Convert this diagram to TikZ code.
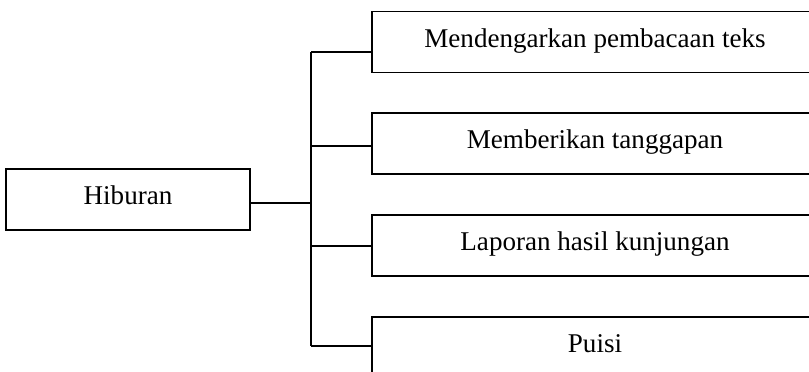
\documentclass[tikz,border=0pt]{standalone}
\usepackage{fontspec}
\setmainfont{Liberation Serif}
\tikzset{every picture/.style={line width=0.9pt}}
\tikzset{
  boxnode/.style={draw, rectangle, inner sep=0pt, minimum height=45.75pt, text depth=6pt, font=\fontsize{20.3}{24}\selectfont},
  itemnode/.style={boxnode, minimum width=334.5pt}
}

\begin{document}
\begin{tikzpicture}[x=0.75pt,y=0.75pt,yscale=-1,xscale=1]
\useasboundingbox (0,0) rectangle (809,371);
\clip (0,0) rectangle (809,371);

%Shape: Rectangle [id:hiburan]
\node [boxnode, minimum width=183pt] (hib) at (128,199.5) {Hiburan};

%Shape: Rectangle [id:items]
\node [itemnode] (m1) at (595,42) {Mendengarkan pembacaan teks};
\node [itemnode] (m2) at (595,143.5) {Memberikan tanggapan};
\node [itemnode] (m3) at (595,245.5) {Laporan hasil kunjungan};
\node [itemnode] (m4) at (595,347.5) {Puisi};

%Straight Lines [id:trunk]
\coordinate (j0) at (311,203);
\coordinate (j1) at (311,52);
\coordinate (j2) at (311,146);
\coordinate (j3) at (311,246);
\coordinate (j4) at (311,346);
\draw (hib.east |- j0) -- (j0) ;
\draw (j1) -- (j4) ;

%Straight Lines [id:branches]
\foreach \i in {1,...,4}
  \draw (j\i) -- (j\i -| m\i.west) ;

\end{tikzpicture}
\end{document}
